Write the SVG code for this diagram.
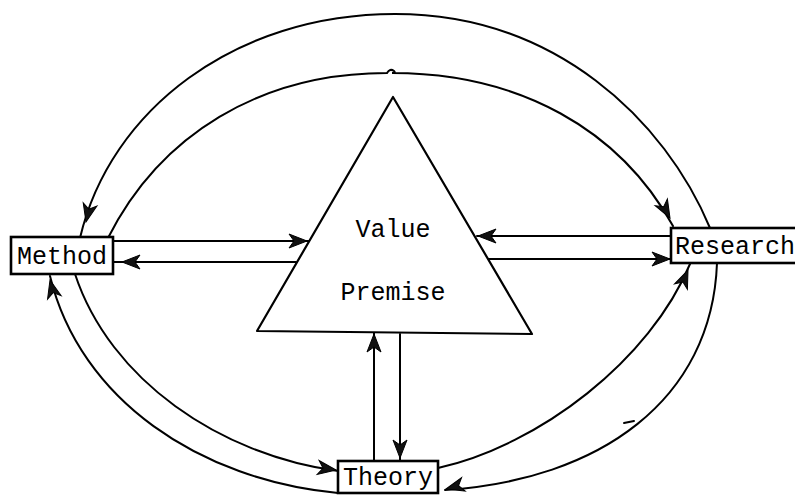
<svg xmlns="http://www.w3.org/2000/svg" width="795" height="500" viewBox="0 0 795 500">
<style>
.ln{fill:none;stroke:#000;stroke-width:2;stroke-linecap:round}
.box{fill:#fff;stroke:#000;stroke-width:2.6}
.tri{fill:#fff;stroke:#000;stroke-width:2.2;stroke-linejoin:round}
.lbl{font-family:"Liberation Mono","Courier New",monospace;font-size:25px;fill:#000}
.ah{fill:#111;stroke:#000;stroke-width:1}
</style>
<defs>
<path id="ah" d="M0,0 L-18,-7 L-13,0 L-18,7 Z"/>
</defs>
<rect width="795" height="500" fill="#fff"/>
<g id="connectors">
<path class="ln" d="M710 228 C665 120 555 14 395 14 C235 14 110 110 80 238"/>
<path class="ln" d="M108 238 C160 135 260 73 387 73 q3 -5 7 -2 q2 2 -2 2 C520 73 620 130 673 226"/>
<path class="ln" d="M75 274 C110 380 220 455 338 471"/>
<path class="ln" d="M338 493 C200 480 80 400 50 276"/>
<path class="ln" d="M438 468 C540 445 650 360 690 264"/>
<path class="ln" d="M717 263 C712 400 600 480 445 490"/>
<path class="ln" d="M113 241 H309"/>
<path class="ln" d="M296 262 H113"/>
<path class="ln" d="M671 236 H477"/>
<path class="ln" d="M487 259 H671"/>
<path class="ln" d="M374 461 V333"/>
<path class="ln" d="M400 334 V461"/>
<path class="ln" d="M624 423 l10 -2"/>
<use href="#ah" class="ah" transform="translate(307,241)"/>
<use href="#ah" class="ah" transform="translate(122,262) rotate(180)"/>
<use href="#ah" class="ah" transform="translate(478,236) rotate(180)"/>
<use href="#ah" class="ah" transform="translate(670,259)"/>
<use href="#ah" class="ah" transform="translate(374,334) rotate(-90)"/>
<use href="#ah" class="ah" transform="translate(400,458) rotate(90)"/>
<use href="#ah" class="ah" transform="translate(86,222) rotate(103)"/>
<use href="#ah" class="ah" transform="translate(670,218) rotate(61)"/>
<use href="#ah" class="ah" transform="translate(50,280) rotate(-104)"/>
<use href="#ah" class="ah" transform="translate(336,470) rotate(8)"/>
<use href="#ah" class="ah" transform="translate(688,270) rotate(-67)"/>
<use href="#ah" class="ah" transform="translate(446,489) rotate(165)"/>
</g>
<g id="value-premise">
<path class="tri" d="M393 97 L532 334 L257 331 Z"/>
<text class="lbl" x="393" y="237" text-anchor="middle">Value</text>
<text class="lbl" x="393" y="300" text-anchor="middle">Premise</text>
</g>
<g id="method">
<rect class="box" x="11" y="237" width="102" height="37"/>
<text class="lbl" x="62" y="264" text-anchor="middle">Method</text>
</g>
<g id="research">
<rect class="box" x="671" y="228" width="140" height="35"/>
<text class="lbl" x="675" y="254">Research</text>
</g>
<g id="theory">
<rect class="box" x="338" y="461" width="100" height="32"/>
<text class="lbl" x="388" y="485" text-anchor="middle">Theory</text>
</g>
</svg>
